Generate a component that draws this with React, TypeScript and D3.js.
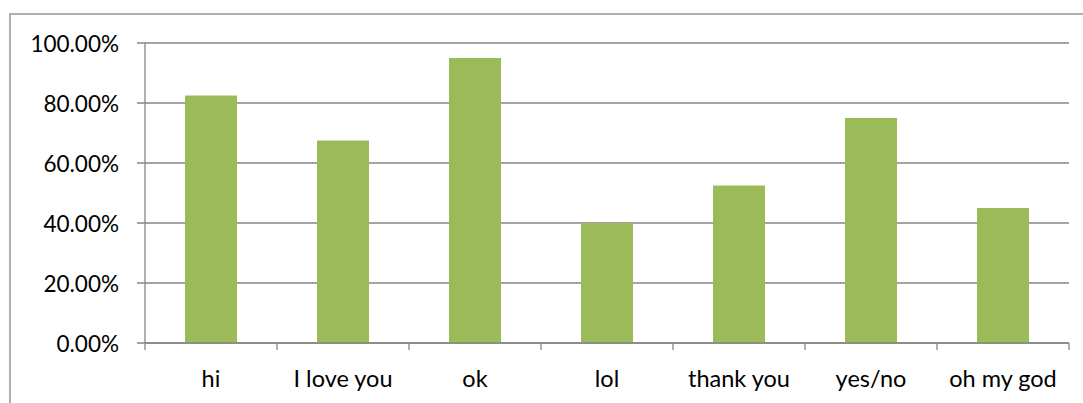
import { useEffect } from 'react'
import * as d3 from 'd3'

const categories = ['hi', 'I love you', 'ok', 'lol', 'thank you', 'yes/no', 'oh my god']
const values = [0.825, 0.675, 0.95, 0.4, 0.525, 0.75, 0.45]
const yTicks = [0, 0.2, 0.4, 0.6, 0.8, 1.0]

const W = 1083
const H = 403
const grey = '#868686'
const barColor = '#9BBB59'
const font = 'Lato, "Open Sans", sans-serif'

export default function App() {
  useEffect(() => {
    document.body.style.margin = '0'
  }, [])

  const left = 145
  const right = 1069
  const top = 43
  const bottom = 343

  const x = d3.scaleBand<string>().domain(categories).range([left, right]).paddingInner(0.606).paddingOuter(0.303)
  const xTick = d3.scaleBand<string>().domain(categories).range([left, right]).padding(0)
  const y = d3.scaleLinear().domain([0, 1]).range([bottom, top])
  const fmt = (v: number) => (v * 100).toFixed(2) + '%'

  return (
    <svg width={W} height={H} style={{ display: 'block', background: '#fff' }}>
      {/* chart frame */}
      <rect x={10} y={14} width={W + 20} height={H + 20} fill="none" stroke={grey} strokeWidth={1.3} />

      {/* gridlines + y ticks */}
      {yTicks.map(t => (
        <g key={t}>
          <line x1={left - 8} x2={right} y1={y(t)} y2={y(t)} stroke={grey} strokeWidth={1.3} />
          <text x={119} y={y(t) + 9} textAnchor="end" fontFamily={font} fontSize={22.5} fill="#000">
            {fmt(t)}
          </text>
        </g>
      ))}

      {/* bars */}
      {categories.map((c, i) => (
        <rect key={c} x={x(c)} y={y(values[i])} width={x.bandwidth()} height={y(0) - y(values[i])} fill={barColor} />
      ))}

      {/* axes */}
      <line x1={left} x2={left} y1={top} y2={bottom + 7} stroke={grey} strokeWidth={1.3} />
      <line x1={left} x2={right} y1={bottom} y2={bottom} stroke={grey} strokeWidth={1.3} />
      {categories.map(c => (
        <line key={c} x1={xTick(c)! + xTick.step()} x2={xTick(c)! + xTick.step()} y1={bottom} y2={bottom + 7} stroke={grey} strokeWidth={1.3} />
      ))}

      {/* category labels */}
      {categories.map(c => (
        <text
          key={c}
          x={xTick(c)! + xTick.bandwidth() / 2}
          y={386.7}
          textAnchor="middle"
          fontFamily={font}
          fontSize={23.5}
          fill="#000"
        >
          {c}
        </text>
      ))}
    </svg>
  )
}
